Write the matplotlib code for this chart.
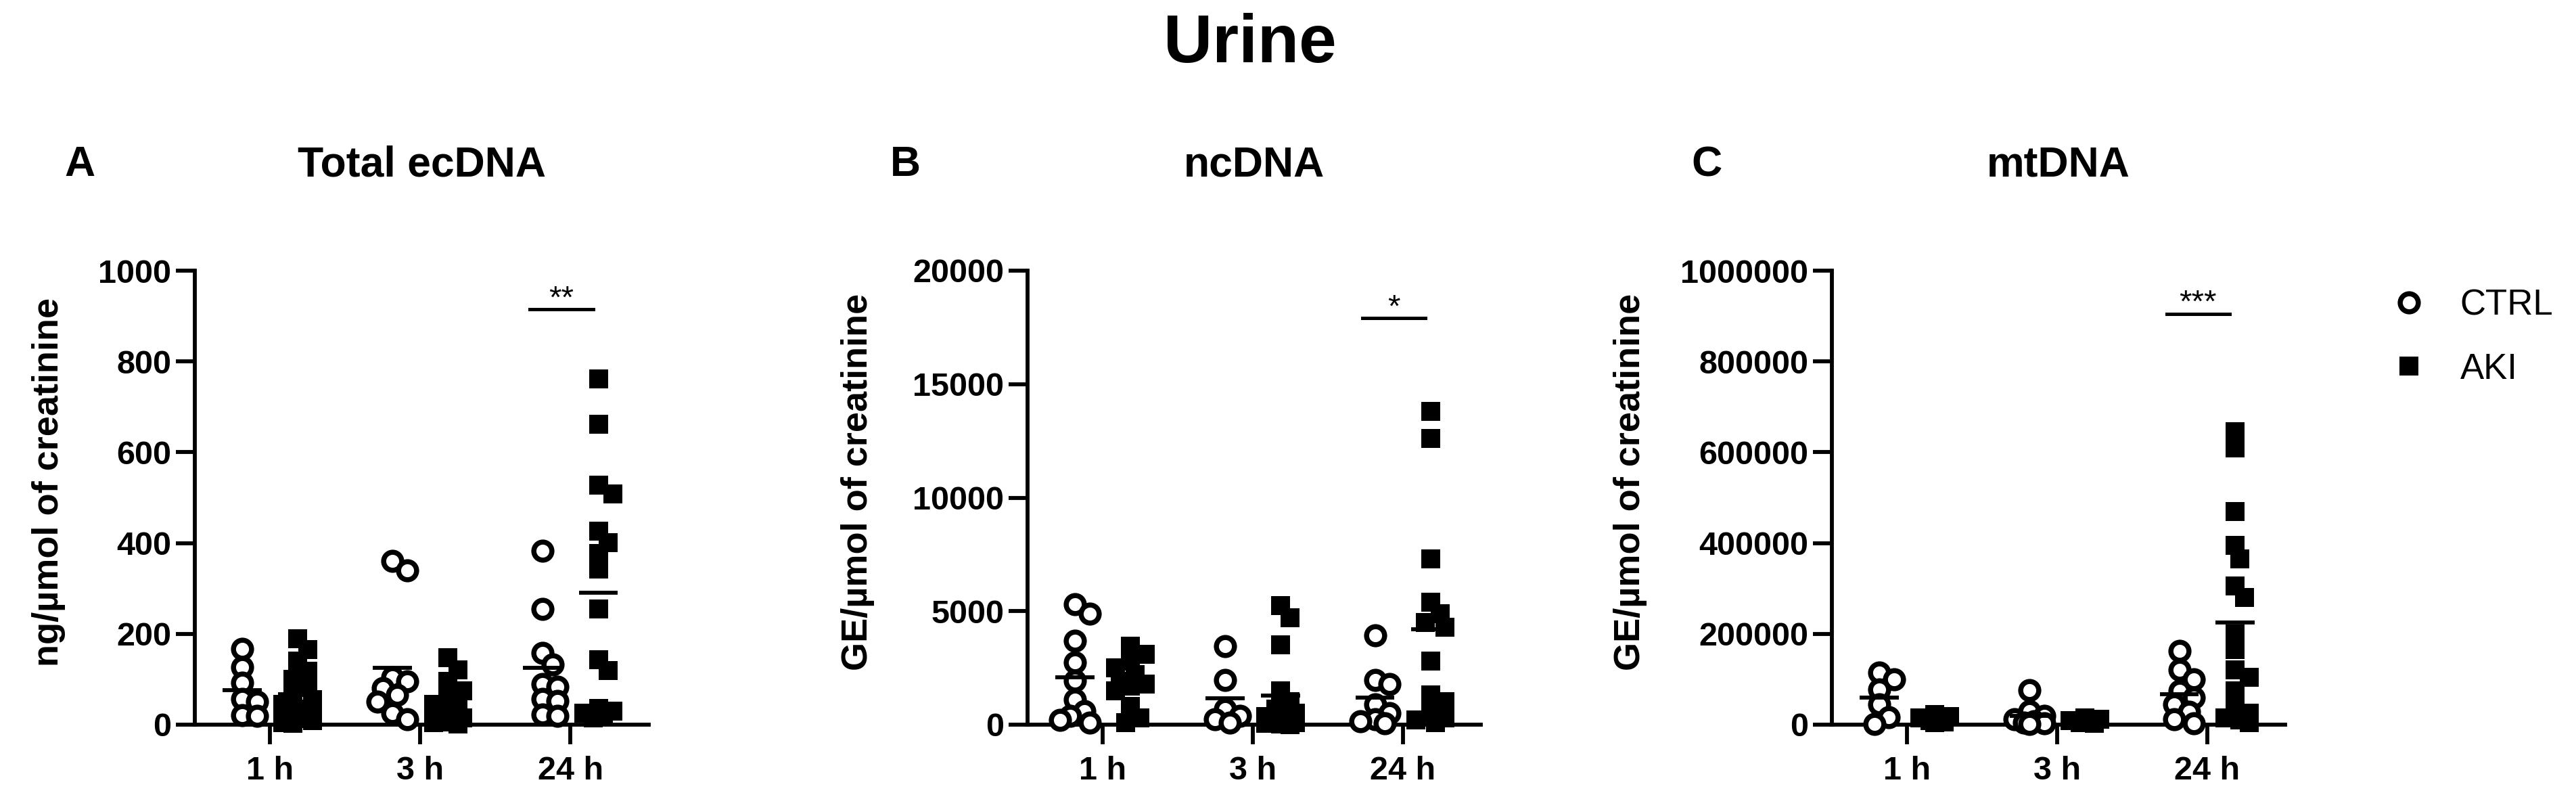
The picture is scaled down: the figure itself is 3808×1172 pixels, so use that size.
import numpy as np
import matplotlib
matplotlib.use('Agg')
import matplotlib.pyplot as plt
import matplotlib.ticker as mticker
from matplotlib.lines import Line2D

plt.rcParams['font.family'] = ['Liberation Sans', 'DejaVu Sans']

times = ['1 h', '3 h', '24 h']

# Total ecDNA (ng/umol creatinine)
tot_ctrl = [[167, 127, 92, 56, 51, 21, 20],
            [360, 340, 105, 95, 80, 65, 50, 25, 12],
            [383, 255, 158, 132, 90, 84, 56, 52, 22, 20]]
tot_aki = [[190, 165, 140, 118, 100, 82, 68, 55, 45, 35, 28, 20, 14, 9, 5, 3],
           [148, 120, 95, 75, 58, 45, 36, 28, 20, 15, 10, 6, 4, 2],
           [761, 661, 528, 508, 426, 401, 377, 343, 255, 143, 119, 36, 30, 26, 20, 15]]

# ncDNA (GE/umol creatinine)
nc_ctrl = [[5300, 4900, 3700, 2750, 1930, 1100, 600, 380, 200, 100],
           [3460, 1980, 700, 400, 250, 100],
           [3930, 1980, 1780, 900, 500, 250, 150, 50]]
nc_aki = [[3450, 3100, 2800, 2500, 2200, 1900, 1800, 1700, 1500, 800, 300, 100],
          [5250, 4700, 3530, 1500, 1000, 700, 500, 350, 250, 150, 100, 50, 30, 10],
          [13800, 12600, 7300, 5400, 4900, 4500, 4300, 2800, 1300, 1000, 500, 300, 200, 100]]

# mtDNA (GE/umol creatinine)
mt_ctrl = [[115000, 100000, 78000, 45000, 17000, 2000],
           [76000, 30000, 20000, 12000, 8000, 5000, 3000, 1000],
           [163000, 120000, 100000, 75000, 60000, 45000, 28000, 12000, 3000]]
mt_aki = [[22000, 18000, 15000, 12000, 9000, 6000, 4000],
          [15000, 12000, 9000, 7000, 5000, 3000],
          [645000, 610000, 470000, 395000, 365000, 305000, 280000, 200000, 165000,
           120000, 105000, 75000, 40000, 25000, 15000, 10000, 5000]]

# significance at 24 h
sig_level = [915, 17900, 905000]
sig_stars = ['**', '*', '***']

W, H = 3808, 1172
fig = plt.figure(figsize=(19.04, 5.86), dpi=200)

AX_TOP, AX_BOT = 400, 1071
PX_PER_X = 222.0
DIAM = 33.0


def swarm(vals, ymax):
    # pile overlapping points into a narrow column, in pixel space
    vals = np.asarray(vals, dtype=float)
    xs = np.zeros(len(vals))
    placed = []
    cands = [0.0, 0.22, -0.22, 0.44, -0.44, 0.66, -0.66]
    for i in np.argsort(vals)[::-1]:
        yp = vals[i] / ymax * (AX_BOT - AX_TOP)
        best, best_d = 0.0, -1.0
        for c in cands:
            off = c * DIAM
            d = min([np.hypot(off - px, yp - py) for px, py in placed] or [1e9])
            if d >= 0.62 * DIAM:
                best = off
                break
            if d > best_d:
                best, best_d = off, d
        placed.append((best, yp))
        xs[i] = best / PX_PER_X
    return xs


panels = [
    ('A', 'Total ecDNA', 'ng/µmol of creatinine', tot_ctrl, tot_aki, 1000, 200,
     (288, 959), 72, 95, 0),
    ('B', 'ncDNA', 'GE/µmol of creatinine', nc_ctrl, nc_aki, 20000, 5000,
     (1519, 2189), 1268, 1316, 1),
    ('C', 'mtDNA', 'GE/µmol of creatinine', mt_ctrl, mt_aki, 1000000, 200000,
     (2708, 3378), 2410, 2500, 2),
]

for letter, title, ylab, ctrl, aki, ymax, ystep, (xl, xr), ylab_x, let_x, k in panels:
    ax = fig.add_axes([xl / W, 1 - AX_BOT / H, (xr - xl) / W, (AX_BOT - AX_TOP) / H])
    for i in range(3):
        for vals, off, mk in ((ctrl[i], -0.185, 'o'), (aki[i], 0.185, 's')):
            xs = i + off + swarm(vals, ymax)
            if mk == 'o':
                ax.plot(xs, vals, ls='none', marker='o', ms=9.6, mfc='white', mec='black',
                        mew=2.7, clip_on=False, zorder=3)
            else:
                ax.plot(xs, vals, ls='none', marker='s', ms=10, mfc='black', mec='black',
                        mew=0, clip_on=False, zorder=3)
            ax.hlines(np.mean(vals), i + off - 0.13, i + off + 0.13, color='black',
                      lw=2.1, zorder=4)

    # significance bar at 24 h
    ax.plot([2 - 0.27, 2 + 0.15], [sig_level[k], sig_level[k]], color='black', lw=1.8)
    ax.annotate(sig_stars[k], xy=(2 - 0.06, sig_level[k]), xytext=(0, 1),
                textcoords='offset points', ha='center', va='baseline', fontsize=17)

    ax.set_xlim(-0.5, 2.52)
    ax.set_ylim(0, ymax)
    ax.set_xticks(range(3))
    ax.set_xticklabels(times, fontsize=17.5, fontweight='bold')
    ax.set_yticks(np.arange(0, ymax + 1, ystep))
    ax.yaxis.set_major_formatter(mticker.StrMethodFormatter('{x:.0f}'))
    for lab in ax.get_yticklabels():
        lab.set_fontsize(17.5)
        lab.set_fontweight('bold')
    ax.tick_params(axis='y', length=10, width=2.1, pad=2.5)
    ax.tick_params(axis='x', length=10.5, width=2.1, pad=6)
    for s in ('top', 'right'):
        ax.spines[s].set_visible(False)
    for s in ('left', 'bottom'):
        ax.spines[s].set_linewidth(2.1)

    fig.text(ylab_x / W, 1 - 712 / H, ylab, rotation=90, ha='center', va='center',
             fontsize=19.5, fontweight='bold')
    fig.text(let_x / W, 1 - 244 / H, letter, ha='left', va='center',
             fontsize=22.5, fontweight='bold')
    fig.text((xl + xr) / 2 / W, 1 - 244 / H, title, ha='center', va='center',
             fontsize=22.5, fontweight='bold')

fig.text(1848 / W, 1 - 66 / H, 'Urine', ha='center', va='center', fontsize=36,
         fontweight='bold')

handles = [Line2D([], [], ls='none', marker='o', ms=9.6, mfc='white', mec='black', mew=2.7),
           Line2D([], [], ls='none', marker='s', ms=10, mfc='black', mew=0)]
fig.legend(handles, ['CTRL', 'AKI'], loc='upper left',
           bbox_to_anchor=(3535 / W, 1 - 426 / H), frameon=False, fontsize=19,
           handlelength=1.0, handletextpad=0.93, labelspacing=0.85,
           borderpad=0, borderaxespad=0)

fig.savefig('out.png', dpi=200)
